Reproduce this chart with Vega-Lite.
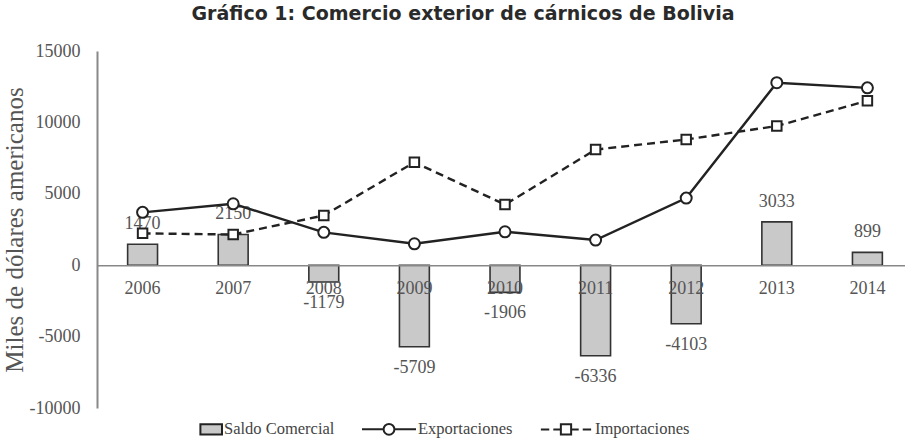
{
  "$schema": "https://vega.github.io/schema/vega-lite/v6.json",
  "width": 808,
  "height": 357,
  "autosize": {"type": "none"},
  "padding": {"left": 97, "top": 51, "right": 0, "bottom": 30},
  "background": "white",
  "config": {
    "view": {"stroke": null},
    "font": "Liberation Serif",
    "locale": {"number": {"decimal": ".", "thousands": "", "grouping": [3], "currency": ["$", ""], "minus": "-"}},
    "legend": {
      "orient": "none",
      "legendX": 70,
      "legendY": 350,
      "direction": "horizontal",
      "symbolSize": 2916,
      "labelFont": "Liberation Serif",
      "labelFontSize": 16.5,
      "labelColor": "#444",
      "columnPadding": 23,
      "labelOffset": 1,
      "symbolOpacity": 1,
      "symbolStrokeWidth": 2,
      "symbolStrokeColor": "#222"
    }
  },
  "title": {
    "text": "Gráfico 1: Comercio exterior de cárnicos de Bolivia",
    "font": "DejaVu Sans",
    "fontSize": 19,
    "fontWeight": "bold",
    "color": "#2a2a2a",
    "anchor": "middle",
    "dx": -38,
    "offset": 18
  },
  "data": {
    "values": [
      {"year": "2006", "serie": "Saldo Comercial", "value": 1470},
      {"year": "2007", "serie": "Saldo Comercial", "value": 2150},
      {"year": "2008", "serie": "Saldo Comercial", "value": -1179},
      {"year": "2009", "serie": "Saldo Comercial", "value": -5709},
      {"year": "2010", "serie": "Saldo Comercial", "value": -1906},
      {"year": "2011", "serie": "Saldo Comercial", "value": -6336},
      {"year": "2012", "serie": "Saldo Comercial", "value": -4103},
      {"year": "2013", "serie": "Saldo Comercial", "value": 3033},
      {"year": "2014", "serie": "Saldo Comercial", "value": 899},
      {"year": "2006", "serie": "Exportaciones", "value": 3700},
      {"year": "2007", "serie": "Exportaciones", "value": 4300},
      {"year": "2008", "serie": "Exportaciones", "value": 2300},
      {"year": "2009", "serie": "Exportaciones", "value": 1500},
      {"year": "2010", "serie": "Exportaciones", "value": 2340},
      {"year": "2011", "serie": "Exportaciones", "value": 1760},
      {"year": "2012", "serie": "Exportaciones", "value": 4700},
      {"year": "2013", "serie": "Exportaciones", "value": 12780},
      {"year": "2014", "serie": "Exportaciones", "value": 12420},
      {"year": "2006", "serie": "Importaciones", "value": 2230},
      {"year": "2007", "serie": "Importaciones", "value": 2150},
      {"year": "2008", "serie": "Importaciones", "value": 3479},
      {"year": "2009", "serie": "Importaciones", "value": 7209},
      {"year": "2010", "serie": "Importaciones", "value": 4246},
      {"year": "2011", "serie": "Importaciones", "value": 8096},
      {"year": "2012", "serie": "Importaciones", "value": 8803},
      {"year": "2013", "serie": "Importaciones", "value": 9747},
      {"year": "2014", "serie": "Importaciones", "value": 11521}
    ]
  },
  "encoding": {
    "x": {
      "field": "year",
      "type": "ordinal",
      "scale": {"type": "band", "paddingInner": 0.67, "paddingOuter": 0.294, "align": 0.575},
      "axis": {
        "title": null,
        "labelAngle": 0,
        "offset": -142.8,
        "zindex": 1,
        "domainColor": "#888",
        "domainWidth": 1.5,
        "ticks": false,
        "labelPadding": 14,
        "labelFont": "Liberation Serif",
        "labelFontSize": 18,
        "labelColor": "#555"
      }
    },
    "y": {
      "field": "value",
      "type": "quantitative",
      "scale": {"domain": [-10000, 15000], "nice": false, "zero": false},
      "axis": {
        "title": "Miles de dólares americanos",
        "titleFont": "Liberation Serif",
        "titleFontSize": 25,
        "titleFontWeight": "normal",
        "titleColor": "#555",
        "titlePadding": 2,
        "values": [-10000, -5000, 0, 5000, 10000, 15000],
        "format": "d",
        "grid": false,
        "ticks": false,
        "domainColor": "#888",
        "domainWidth": 2,
        "labelPadding": 17,
        "labelFont": "Liberation Serif",
        "labelFontSize": 18,
        "labelColor": "#555"
      }
    }
  },
  "layer": [
    {
      "transform": [{"filter": "datum.serie === 'Saldo Comercial'"}],
      "mark": {"type": "bar", "fill": "#c9c9c9", "stroke": "#333", "strokeWidth": 1.6},
      "encoding": {"stroke": {"value": "#333"}, "strokeWidth": {"value": 1.6}}
    },
    {
      "transform": [{"filter": "datum.serie === 'Saldo Comercial' && datum.value >= 0"}],
      "mark": {"type": "text", "baseline": "middle", "dy": -20, "fontSize": 18, "color": "#555", "font": "Liberation Serif"},
      "encoding": {"text": {"field": "value", "type": "quantitative", "format": "d"}}
    },
    {
      "transform": [{"filter": "datum.serie === 'Saldo Comercial' && datum.value < 0"}],
      "mark": {"type": "text", "baseline": "middle", "dy": 21, "fontSize": 18, "color": "#555", "font": "Liberation Serif"},
      "encoding": {"text": {"field": "value", "type": "quantitative", "format": "d"}}
    },
    {
      "transform": [{"filter": "datum.serie === 'Exportaciones'"}],
      "mark": {"type": "line", "stroke": "#222", "strokeWidth": 2.4}
    },
    {
      "transform": [{"filter": "datum.serie === 'Importaciones'"}],
      "mark": {"type": "line", "stroke": "#222", "strokeWidth": 2.4, "strokeDash": [8, 5]}
    },
    {
      "transform": [{"filter": "datum.serie === 'Exportaciones'"}],
      "mark": {"type": "point", "shape": "circle", "filled": true, "fill": "white", "stroke": "#222", "strokeWidth": 2, "size": 121, "opacity": 1}
    },
    {
      "transform": [{"filter": "datum.serie === 'Importaciones'"}],
      "mark": {"type": "point", "shape": "square", "filled": true, "fill": "white", "stroke": "#222", "strokeWidth": 2, "size": 90, "opacity": 1}
    },
    {
      "mark": {"type": "point", "filled": true, "opacity": 0, "stroke": "#222", "strokeWidth": 2},
      "encoding": {
        "shape": {
          "field": "serie",
          "type": "nominal",
          "scale": {
            "domain": ["Saldo Comercial", "Exportaciones", "Importaciones"],
            "range": [
              "M0.2,-0.19H1V0.19H0.2Z",
              "M-1,0H-0.2M0.2,0H1M0.2,0A0.2,0.2 0 1,1 -0.2,0A0.2,0.2 0 1,1 0.2,0",
              "M-0.93,0H-0.62M-0.47,0H-0.19M0.19,0H0.47M0.62,0H0.93M-0.19,-0.19H0.19V0.19H-0.19Z"
            ]
          },
          "legend": {
            "title": null,
            "symbolStrokeColor": "#222",
            "symbolStrokeWidth": 2,
            "encode": {"symbols": {"update": {"stroke": {"value": "#222"}, "strokeWidth": {"value": 2}, "strokeOpacity": {"value": 1}, "opacity": {"value": 1}}}}
          }
        },
        "fill": {
          "field": "serie",
          "type": "nominal",
          "scale": {
            "domain": ["Saldo Comercial", "Exportaciones", "Importaciones"],
            "range": ["#c9c9c9", "white", "white"]
          },
          "legend": {
            "title": null,
            "symbolStrokeColor": "#222",
            "symbolStrokeWidth": 2,
            "encode": {"symbols": {"update": {"stroke": {"value": "#222"}, "strokeWidth": {"value": 2}, "strokeOpacity": {"value": 1}, "opacity": {"value": 1}}}}
          }
        }
      }
    }
  ]
}
